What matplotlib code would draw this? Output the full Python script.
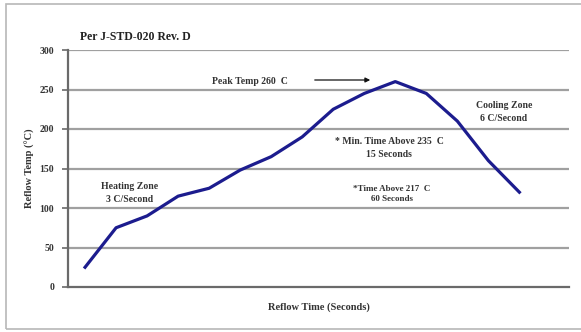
import matplotlib.pyplot as plt
from matplotlib.patches import Rectangle

# reflow profile, evenly spaced samples
time_index = list(range(15))
temps = [25, 75, 90, 115, 125, 148, 165, 190, 225, 245, 260, 245, 210, 160, 120]
y_ticks = [0, 50, 100, 150, 200, 250, 300]

plt.rcParams['font.family'] = ['Liberation Serif', 'DejaVu Serif']
plt.rcParams['font.weight'] = 'bold'
plt.rcParams['axes.labelweight'] = 'bold'

W, H = 581, 332
fig = plt.figure(figsize=(W / 100, H / 100), dpi=100)

def px(x0, y0, x1, y1):
    # pixel box -> figure fraction rect
    return [x0 / W, 1 - y1 / H, (x1 - x0) / W, (y1 - y0) / H]

# outer frame
fig.patches.append(Rectangle((6 / W, 1 - 329 / H), 1.1, (329 - 4) / H,
                             transform=fig.transFigure, fill=False,
                             edgecolor='#b8b8b8', linewidth=1.2))

ax = fig.add_axes(px(68, 50, 569, 287))
ax.plot(time_index, temps, color='#1c1c8e', linewidth=2.3, solid_joinstyle='round')

ax.set_xlim(-0.55, 15.6)
ax.set_ylim(0, 300)
ax.set_yticks(y_ticks)
ax.set_xticks([])
for t in y_ticks[1:]:
    ax.axhline(t, color='#a0a0a0', linewidth=1.6, zorder=0)
ax.spines['right'].set_visible(False)
ax.spines['top'].set_visible(False)
ax.spines['left'].set_color('#6a6a6a')
ax.spines['left'].set_linewidth(1.6)
ax.spines['bottom'].set_color('#6a6a6a')
ax.spines['bottom'].set_linewidth(1.6)
ax.tick_params(axis='y', length=4, width=1.2, color='#6a6a6a',
               labelsize=7, labelcolor='#333333', pad=6)

ax.set_ylabel('Reflow Temp (\u00b0C)', fontsize=7.5, color='#333333', labelpad=3)
ax.set_xlabel('Reflow Time (Seconds)', fontsize=7.5, color='#333333', labelpad=11)
fig.text(80 / W, 1 - 37 / H, 'Per J-STD-020 Rev. D', fontsize=8.5,
         color='#222222', va='center', ha='left')

def note(xp, yp, s, size=7):
    fig.text(xp / W, 1 - yp / H, s, fontsize=size, color='#333333',
             ha='center', va='center', linespacing=1.45)

note(250, 82, 'Peak Temp 260  C')
note(130, 193, 'Heating Zone\n3 C/Second')
note(389, 148, '* Min. Time Above 235  C\n15 Seconds')
note(392, 194, '*Time Above 217  C\n60 Seconds', size=6.5)
note(504, 112, 'Cooling Zone\n6 C/Second')

ax.annotate('', xy=(373 / W, 1 - 80 / H), xytext=(312 / W, 1 - 80 / H),
            xycoords='figure fraction', textcoords='figure fraction',
            arrowprops=dict(arrowstyle='-|>', color='#111111', lw=0.9,
                            mutation_scale=7))

fig.savefig('out.png', dpi=100)
